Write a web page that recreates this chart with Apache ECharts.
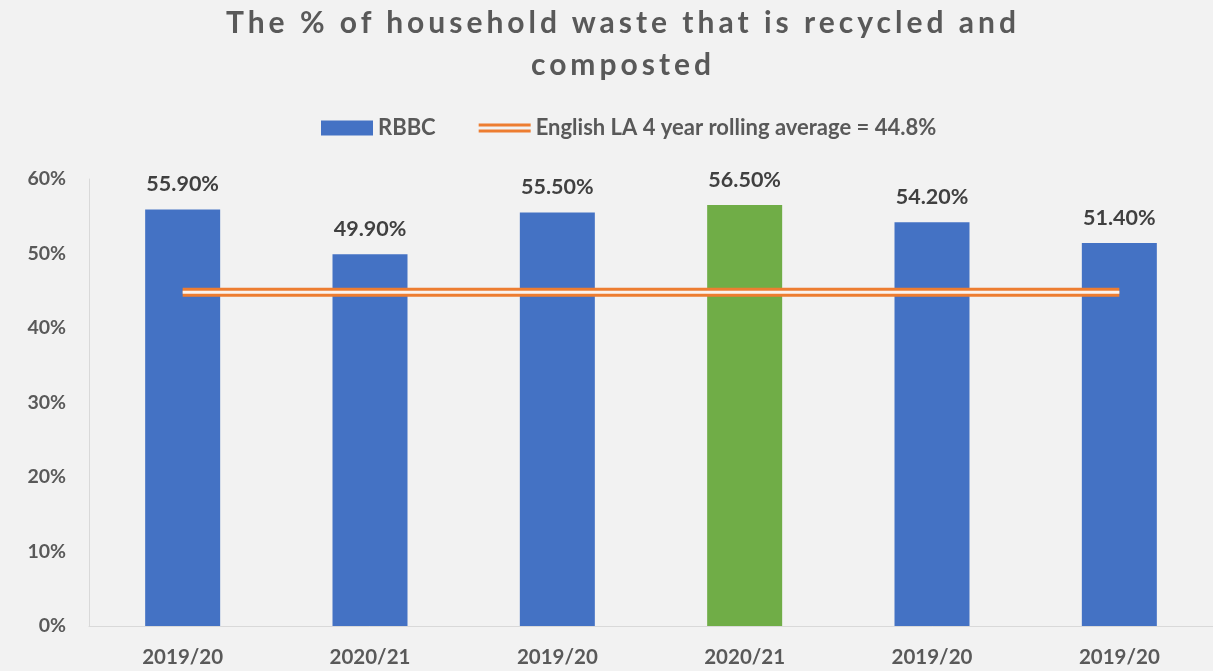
<!DOCTYPE html>
<html>
<head>
<meta charset="utf-8">
<script src="https://cdn.jsdelivr.net/npm/echarts@6/dist/echarts.min.js"></script>
<style>
  html, body { margin: 0; padding: 0; background: #f2f2f2; }
  #wrap { position: relative; width: 1213px; height: 671px; }
  #chart { width: 1213px; height: 671px; }
  .title {
    position: absolute; left: 33px; right: 0; top: 0px;
    text-align: center; font-family: Lato, 'Open Sans', sans-serif;
    font-weight: bold; font-size: 30px; line-height: 42px;
    letter-spacing: 4px; color: #595959;
  }
</style>
</head>
<body>
<div id="wrap">
  <div id="chart"></div>
  <div class="title">The % of household waste that is recycled and<br>composted</div>
</div>
<script>
// 数据
const years = ['2019/20', '2020/21', '2019/20', '2020/21', '2019/20', '2019/20']
const rbbc = [55.9, 49.9, 55.5, 56.5, 54.2, 51.4]
const barColors = ['#4472c4', '#4472c4', '#4472c4', '#70ad47', '#4472c4', '#4472c4']
const rollingAvg = 44.8
const avgLine = years.map(() => rollingAvg)

const chart = echarts.init(document.getElementById('chart'))
const font = 'Lato, "Open Sans", sans-serif'

const option = {
  backgroundColor: '#f2f2f2',
  textStyle: { fontFamily: font },
  legend: {
    left: 316,
    top: 112,
    itemWidth: 52,
    itemHeight: 15,
    itemGap: 43,
    textStyle: { fontSize: 22, fontWeight: 'bold', color: '#595959', fontFamily: font, padding: [0, 0, 0, 0] },
    data: [
      { name: 'RBBC', icon: 'rect' },
      {
        name: 'English LA 4 year rolling average = 44.8%',
        icon: 'path://M0,0 M52,15 M0,3H52V6H0Z M0,9H52V12H0Z',
        itemStyle: { color: '#ed7d31' }
      }
    ]
  },
  grid: { left: 89, right: 0, top: 179, bottom: 45 },
  xAxis: {
    type: 'category',
    data: years,
    axisLine: { lineStyle: { color: '#d9d9d9', width: 1 } },
    axisTick: { show: false },
    axisLabel: { fontSize: 20.5, fontWeight: 'bold', color: '#595959', margin: 21, fontFamily: font }
  },
  yAxis: {
    type: 'value',
    min: 0,
    max: 60,
    interval: 10,
    axisLine: { show: true, lineStyle: { color: '#d9d9d9', width: 1 } },
    splitLine: { show: false },
    axisLabel: { formatter: '{value}%', fontSize: 19.5, fontWeight: 'bold', color: '#595959', margin: 23, fontFamily: font }
  },
  series: [
    {
      name: 'RBBC',
      type: 'bar',
      barWidth: 75,
      itemStyle: { color: '#4472c4' },
      data: rbbc.map((v, i) => ({ value: v, itemStyle: { color: barColors[i] } })),
      label: {
        show: true,
        position: 'top',
        distance: 14,
        formatter: (p) => p.value.toFixed(2) + '%',
        fontSize: 21.5,
        fontWeight: 'bold',
        color: '#404040',
        fontFamily: font
      },
      z: 2
    },
    {
      name: 'English LA 4 year rolling average = 44.8%',
      type: 'line',
      data: avgLine,
      symbol: 'none',
      itemStyle: { color: '#ed7d31' },
      lineStyle: { color: '#ed7d31', width: 9 },
      z: 3
    },
    {
      name: 'gap',
      type: 'line',
      data: avgLine,
      symbol: 'none',
      lineStyle: { color: '#fbf3ee', width: 3 },
      z: 4
    }
  ]
}

chart.setOption(option)
</script>
</body>
</html>
